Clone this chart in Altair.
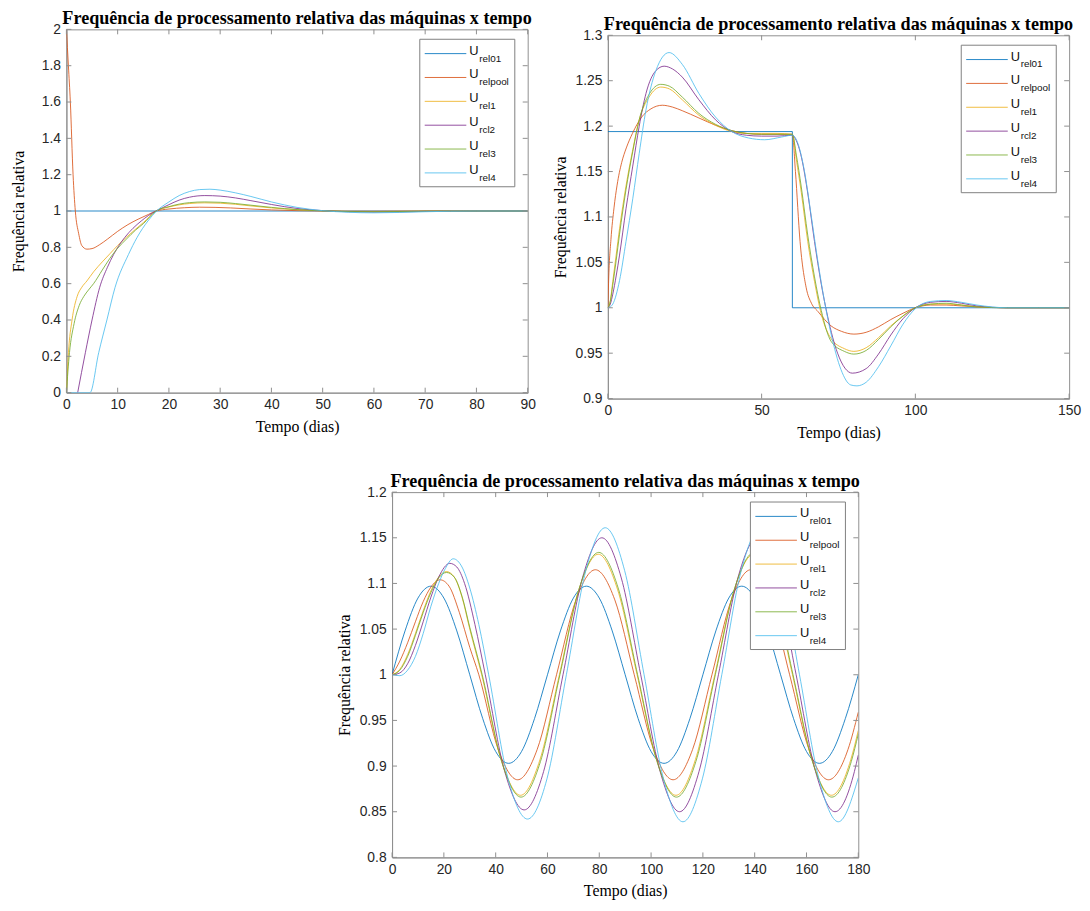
import altair as alt
import pandas as pd

TITLE = "Frequência de processamento relativa das máquinas x tempo"
X_TITLE = "Tempo (dias)"
Y_TITLE = "Frequência relativa"

legend_subs = ["rel01", "relpool", "rel1", "rcl2", "rel3", "rel4"]
line_colors = ["#0072BD", "#D95319", "#EDB120", "#7E2F8E", "#77AC30", "#4DBEEE"]

# ---------------- Panel 1 ----------------
p1_x_ticks = [0, 10, 20, 30, 40, 50, 60, 70, 80, 90]
p1_y_ticks = [0, 0.2, 0.4, 0.6, 0.8, 1, 1.2, 1.4, 1.6, 1.8, 2]

p1_t_rel01 = [0, 90]
p1_u_rel01 = [1, 1]
p1_t_relpool = [0, 0.39, 0.77, 1.3, 1.74, 2.4, 3.0, 4.0, 5.0, 6.5, 8, 10, 12, 14, 16, 17.5, 20, 23, 26, 29,
                32, 36, 40, 45, 50, 55, 60, 70, 80, 90]
p1_u_relpool = [2.0, 1.8, 1.6, 1.2, 1.0, 0.875, 0.81, 0.79, 0.793, 0.815, 0.845, 0.888, 0.925, 0.955, 0.981,
                1.0, 1.011, 1.018, 1.021, 1.02, 1.017, 1.011, 1.006, 1.002, 1.0, 0.999, 0.999, 1.0, 1.0, 1.0]
p1_t_rel1 = [0, 0.4, 1.1, 2.1, 3.0, 4.0, 5.3, 7, 8.5, 10, 11.7, 13.5, 15, 17.5, 20, 22, 24, 27, 30, 33,
             36, 40, 45, 50, 55, 60, 65, 70, 80, 90]
p1_u_rel1 = [0, 0.22, 0.4, 0.53, 0.58, 0.615, 0.665, 0.72, 0.765, 0.81, 0.855, 0.9, 0.936, 1.0, 1.022,
             1.034, 1.041, 1.045, 1.043, 1.037, 1.028, 1.017, 1.007, 1.001, 0.998, 0.997, 0.998, 0.999, 1.0, 1.0]
p1_t_rcl2 = [2.2, 3.7, 5.0, 6.5, 8, 9.2, 11.4, 13, 14.6, 16, 17.5, 20, 22, 24, 27, 30, 33, 36, 40, 45,
             50, 55, 60, 65, 70, 80, 90]
p1_u_rcl2 = [0, 0.22, 0.4, 0.58, 0.69, 0.76, 0.855, 0.905, 0.945, 0.975, 1.0, 1.035, 1.06, 1.076, 1.085,
             1.082, 1.072, 1.057, 1.036, 1.014, 1.002, 0.996, 0.994, 0.995, 0.998, 1.0, 1.0]
p1_t_rel3 = [0, 0.6, 1.5, 2.5, 3.4, 4.3, 5.3, 7, 8.5, 10, 11.7, 13.5, 15, 17.5, 20, 22, 24, 27, 30, 33,
             36, 40, 45, 50, 55, 60, 65, 70, 80, 90]
p1_u_rel3 = [0, 0.22, 0.38, 0.48, 0.53, 0.565, 0.60, 0.675, 0.74, 0.795, 0.845, 0.895, 0.93, 1.0, 1.024,
             1.038, 1.046, 1.05, 1.048, 1.041, 1.032, 1.02, 1.008, 1.001, 0.997, 0.996, 0.997, 0.999, 1.0, 1.0]
p1_t_rel4 = [0, 4.6, 6.3, 7.9, 9.5, 12.1, 13.8, 15.9, 17.6, 20, 22, 24, 26, 28, 30, 33, 36, 40, 45, 50,
             55, 60, 65, 70, 80, 90]
p1_u_rel4 = [0, 0, 0.22, 0.4, 0.58, 0.76, 0.855, 0.945, 1.0, 1.05, 1.085, 1.107, 1.118, 1.12, 1.115,
             1.1, 1.08, 1.05, 1.02, 1.002, 0.993, 0.99, 0.992, 0.996, 1.0, 1.0]

# ---------------- Panel 2 ----------------
p2_x_ticks = [0, 50, 100, 150]
p2_y_ticks = [0.9, 0.95, 1, 1.05, 1.1, 1.15, 1.2, 1.25, 1.3]

p2_t_rel01 = [0, 60, 60, 150]
p2_u_rel01 = [1.194, 1.194, 1.0, 1.0]
p2_t_relpool = [0, 0.3, 1, 2, 3, 4.5, 6, 8, 11, 14, 17.7, 21, 24.2, 29.6, 35, 40.3, 45, 50, 55, 60,
                61, 62.5, 64.5, 66.2, 68.3, 72.6, 76, 80, 84, 88, 92, 96, 100, 105, 110, 115, 120, 130, 140, 150]
p2_u_relpool = [1.0, 1.035, 1.075, 1.11, 1.135, 1.16, 1.176, 1.192, 1.21, 1.219, 1.223, 1.221, 1.217, 1.209,
                1.201, 1.195, 1.192, 1.191, 1.191, 1.191, 1.15, 1.073, 1.022, 1.005, 0.996, 0.98, 0.974,
                0.971, 0.973, 0.979, 0.987, 0.994, 1.0, 1.003, 1.003, 1.002, 1.001, 1.0, 1.0, 1.0]
p2_t_rel1 = [0, 0.8, 1.6, 2.7, 3.8, 5.9, 8.1, 10.2, 13.4, 17.2, 20, 24.2, 29.6, 35, 40.3, 45, 50, 55, 60,
             61.3, 62.9, 65, 67.2, 69.4, 72.6, 76.9, 80, 84, 88, 92, 96, 100, 105, 110, 115, 120, 130, 140, 150]
p2_u_rel1 = [1.0, 1.008, 1.029, 1.058, 1.087, 1.134, 1.174, 1.207, 1.232, 1.243, 1.241, 1.229, 1.212, 1.201,
             1.194, 1.192, 1.192, 1.192, 1.191, 1.163, 1.127, 1.073, 1.029, 0.993, 0.966, 0.955, 0.952,
             0.956, 0.967, 0.98, 0.991, 1.0, 1.004, 1.004, 1.003, 1.001, 1.0, 1.0, 1.0]
p2_t_rcl2 = [0, 0.8, 1.6, 2.7, 3.8, 5.9, 8.1, 10.2, 12.4, 15.6, 18.3, 21, 24.2, 29.6, 35, 40.3, 45, 50, 55,
             60, 61, 63, 65.1, 67.2, 69.4, 71.5, 74.7, 79.5, 84, 88, 92, 96, 100, 105, 110, 115, 120, 130,
             140, 150]
p2_u_rcl2 = [1.0, 1.004, 1.015, 1.035, 1.058, 1.109, 1.156, 1.2, 1.236, 1.261, 1.266, 1.263, 1.254, 1.229,
             1.207, 1.194, 1.19, 1.189, 1.189, 1.19, 1.186, 1.165, 1.124, 1.073, 1.026, 0.99, 0.95, 0.928,
             0.933, 0.949, 0.97, 0.988, 1.0, 1.006, 1.007, 1.005, 1.002, 1.0, 1.0, 1.0]
p2_t_rel3 = [0, 0.8, 1.6, 2.7, 3.8, 5.9, 8.1, 10.2, 13.4, 17.2, 20, 24.2, 29.6, 35, 40.3, 45, 50, 55, 60,
             61.3, 62.9, 65, 67.2, 69.4, 72.6, 76.9, 80, 84, 88, 92, 96, 100, 105, 110, 115, 120, 130, 140, 150]
p2_u_rel3 = [1.0, 1.007, 1.025, 1.052, 1.081, 1.13, 1.172, 1.207, 1.235, 1.246, 1.244, 1.232, 1.214, 1.202,
             1.195, 1.192, 1.191, 1.191, 1.191, 1.168, 1.133, 1.08, 1.034, 0.997, 0.963, 0.952, 0.949,
             0.953, 0.965, 0.979, 0.991, 1.0, 1.004, 1.005, 1.003, 1.001, 1.0, 1.0, 1.0]
p2_t_rel4 = [0, 0.8, 1.6, 3.8, 5.9, 8.1, 10.2, 12.4, 15.6, 19.9, 24.2, 29.6, 35, 40.3, 45.7, 51, 56.5, 60,
             61.8, 64, 66.1, 68.3, 70.4, 72.6, 75.8, 79, 81, 84, 88, 92, 96, 100, 105, 110, 115, 120, 130,
             140, 150]
p2_u_rel4 = [1.0, 1.001, 1.004, 1.03, 1.073, 1.12, 1.17, 1.218, 1.261, 1.281, 1.268, 1.236, 1.21, 1.194,
             1.187, 1.185, 1.188, 1.19, 1.181, 1.149, 1.102, 1.051, 1.008, 0.971, 0.932, 0.915, 0.914,
             0.918, 0.935, 0.958, 0.982, 0.999, 1.007, 1.008, 1.006, 1.003, 1.0, 1.0, 1.0]

# ---------------- Panel 3 ----------------
p3_x_ticks = [0, 20, 40, 60, 80, 100, 120, 140, 160, 180]
p3_y_ticks = [0.8, 0.85, 0.9, 0.95, 1, 1.05, 1.1, 1.15, 1.2]

p3_t_rel01 = [0, 5, 10, 15, 20, 25, 30, 35, 40, 45, 50, 55, 60, 65, 70, 75, 80, 85, 90, 95, 100, 105,
              110, 115, 120, 125, 130, 135, 140, 145, 150, 155, 160, 165, 170, 175, 180]
p3_u_rel01 = [1.0, 1.048, 1.084, 1.097, 1.084, 1.048, 1.0, 0.952, 0.916, 0.903, 0.916, 0.952,
              1.0, 1.048, 1.084, 1.097, 1.084, 1.048, 1.0, 0.952, 0.916, 0.903, 0.916, 0.952,
              1.0, 1.048, 1.084, 1.097, 1.084, 1.048, 1.0, 0.952, 0.916, 0.903, 0.916, 0.952, 1.0]
p3_t_relpool = [0, 3, 6, 9, 12, 15, 18.5, 22, 26, 30, 33.5, 41, 48.5, 56, 63.5, 71, 78.5, 86, 93.5, 101,
                108.5, 116, 123.5, 131, 138.5, 146, 153.5, 161, 168.5, 176, 180]
p3_u_relpool = [1.0, 1.015, 1.035, 1.058, 1.08, 1.096, 1.104, 1.097, 1.068, 1.03, 1.0, 0.918, 0.885, 0.918,
                1.0, 1.082, 1.115, 1.082, 1.0, 0.918, 0.885, 0.918, 1.0, 1.082, 1.115, 1.082, 1.0, 0.918,
                0.885, 0.918, 0.959]
p3_t_rel1 = [0, 3, 6, 9, 12, 15, 18, 21, 24, 27, 30, 34.6, 42.1, 49.6, 57.1, 64.6, 72.1, 79.6, 87.1, 94.6,
             102.1, 109.6, 117.1, 124.6, 132.1, 139.6, 147.1, 154.6, 162.1, 169.6, 177.1, 180]
p3_u_rel1 = [1.0, 1.006, 1.022, 1.045, 1.07, 1.092, 1.107, 1.113, 1.107, 1.085, 1.05, 1.0, 0.907, 0.868,
             0.907, 1.0, 1.093, 1.132, 1.093, 1.0, 0.907, 0.868, 0.907, 1.0, 1.093, 1.132, 1.093, 1.0, 0.907,
             0.868, 0.907, 0.939]
p3_t_rcl2 = [0, 3, 6, 9, 12, 15, 18, 22.3, 25, 28, 32, 36, 43.5, 51, 58.5, 66, 73.5, 81, 88.5, 96, 103.5,
             111, 118.5, 126, 133.5, 141, 148.5, 156, 163.5, 171, 178.5, 180]
p3_u_rcl2 = [1.0, 1.002, 1.012, 1.032, 1.058, 1.085, 1.107, 1.122, 1.118, 1.1, 1.055, 1.0, 0.894, 0.852,
             0.894, 1.0, 1.106, 1.15, 1.106, 1.0, 0.894, 0.85, 0.894, 1.0, 1.106, 1.15, 1.106, 1.0, 0.894,
             0.85, 0.894, 0.912]
p3_t_rel3 = [0, 3, 6, 9, 12, 15, 18, 21, 24, 27, 30, 34.8, 42.3, 49.8, 57.3, 64.8, 72.3, 79.8, 87.3, 94.8,
             102.3, 109.8, 117.3, 124.8, 132.3, 139.8, 147.3, 154.8, 162.3, 169.8, 177.3, 180]
p3_u_rel3 = [1.0, 1.005, 1.02, 1.043, 1.068, 1.09, 1.106, 1.112, 1.107, 1.086, 1.052, 1.0, 0.905, 0.866,
             0.905, 1.0, 1.095, 1.134, 1.095, 1.0, 0.905, 0.866, 0.905, 1.0, 1.095, 1.134, 1.095, 1.0, 0.905,
             0.866, 0.905, 0.935]
p3_t_rel4 = [0, 3, 6, 9, 12, 15, 18, 20.5, 23.6, 27, 30, 33.5, 37.3, 44.8, 52.3, 59.8, 67.3, 74.8, 82.3,
             89.8, 97.3, 104.8, 112.3, 119.8, 127.3, 134.8, 142.3, 149.8, 157.3, 164.8, 172.3, 180]
p3_u_rel4 = [1.0, 0.999, 1.005, 1.02, 1.045, 1.075, 1.1, 1.116, 1.127, 1.118, 1.095, 1.055, 1.0, 0.886,
             0.842, 0.886, 1.0, 1.114, 1.161, 1.114, 1.0, 0.886, 0.839, 0.886, 1.0, 1.114, 1.161, 1.114, 1.0,
             0.886, 0.839, 0.887]

# ---------------- Styling ----------------
SANS = "Liberation Sans"
SERIF = "Liberation Serif"
AXIS_GRAY = "#8f8f8f"
LEGEND_GRAY = "#7f7f7f"
LABEL_COLOR = "#262626"
LINE_OPACITY = 0.85
TITLE_SIZE = 18.3
TITLE_GAP = 5
one = pd.DataFrame({"k": [0]})
LABEL_EXPR = "'' + datum.value"


def legend_layers(W):
    box_r = W - 13
    box_l = box_r - 96
    box_t = 10
    box_b = box_t + 149
    out = [alt.Chart(one).mark_rect(fill="white", stroke=LEGEND_GRAY, strokeWidth=1).encode(
        x=alt.value(box_l), x2=alt.value(box_r), y=alt.value(box_t), y2=alt.value(box_b))]
    for i, (sub, col) in enumerate(zip(legend_subs, line_colors)):
        yy = box_t + 14.5 + 24.1 * i
        out.append(alt.Chart(one).mark_rule(color=col, strokeWidth=1, strokeOpacity=LINE_OPACITY).encode(
            x=alt.value(box_l + 5), x2=alt.value(box_l + 47), y=alt.value(yy)))
        out.append(alt.Chart(one).mark_text(text="U", font=SANS, fontSize=13, align="left",
                                            baseline="middle", color="#111111").encode(
            x=alt.value(box_l + 50), y=alt.value(yy - 3)))
        out.append(alt.Chart(one).mark_text(text=sub, font=SANS, fontSize=10, align="left",
                                            baseline="middle", color="#111111").encode(
            x=alt.value(box_l + 60), y=alt.value(yy + 5)))
    return out


def make_panel(series, xdom, ydom, xticks, yticks, W, H):
    xs = alt.Scale(domain=xdom, nice=False, zero=False)
    ys = alt.Scale(domain=ydom, nice=False, zero=False)
    xaxis = alt.Axis(values=xticks, title=X_TITLE, labelExpr=LABEL_EXPR, grid=False, ticks=False,
                     domainColor=AXIS_GRAY, domainWidth=1, labelFont=SANS, labelFontSize=14,
                     labelColor=LABEL_COLOR, labelPadding=5, labelFlush=False, labelOverlap=False,
                     titleFont=SERIF, titleFontSize=16, titleFontWeight="normal", titleColor="black",
                     titleY=34, titleBaseline="middle")
    yaxis = alt.Axis(values=yticks, title=Y_TITLE, labelExpr=LABEL_EXPR, grid=False, ticks=False,
                     domainColor=AXIS_GRAY, domainWidth=1, labelFont=SANS, labelFontSize=14,
                     labelColor=LABEL_COLOR, labelPadding=6, labelFlush=False, labelOverlap=False,
                     titleFont=SERIF, titleFontSize=16, titleFontWeight="normal", titleColor="black",
                     titleX=-48, titleY=H / 2, titleAngle=270, titleAlign="center",
                     titleBaseline="middle")
    layers = []
    for t, u, col, interp in series:
        df = pd.DataFrame({"t": t, "u": u})
        layers.append(alt.Chart(df).mark_line(color=col, strokeWidth=1, strokeOpacity=LINE_OPACITY,
                                              interpolate=interp, clip=True).encode(
            x=alt.X("t:Q", scale=xs, axis=xaxis), y=alt.Y("u:Q", scale=ys, axis=yaxis)))
    dx = pd.DataFrame({"v": xticks})
    dy = pd.DataFrame({"v": yticks})
    layers.append(alt.Chart(dx).mark_rule(color=AXIS_GRAY).encode(
        x=alt.X("v:Q", scale=xs, axis=xaxis), y=alt.value(H), y2=alt.value(H - 5)))
    layers.append(alt.Chart(dx).mark_rule(color=AXIS_GRAY).encode(
        x=alt.X("v:Q", scale=xs, axis=xaxis), y=alt.value(0), y2=alt.value(5)))
    layers.append(alt.Chart(dy).mark_rule(color=AXIS_GRAY).encode(
        y=alt.Y("v:Q", scale=ys, axis=yaxis), x=alt.value(0), x2=alt.value(5)))
    layers.append(alt.Chart(dy).mark_rule(color=AXIS_GRAY).encode(
        y=alt.Y("v:Q", scale=ys, axis=yaxis), x=alt.value(W - 5), x2=alt.value(W)))
    layers += legend_layers(W)
    # panel title drawn as text just above the plot frame
    layers.append(alt.Chart(one).mark_text(text=TITLE, font=SERIF, fontSize=TITLE_SIZE, fontWeight="bold",
                                           align="center", baseline="top", color="black").encode(
        x=alt.value(W / 2), y=alt.value(-TITLE_GAP - 0.79 * TITLE_SIZE)))
    return alt.layer(*layers).properties(width=W, height=H)


def spacer(w, h):
    return alt.Chart(one).mark_rule(strokeOpacity=0).encode(
        x=alt.value(0), x2=alt.value(1), y=alt.value(0)).properties(
        width=w, height=h, view=alt.ViewBackground(stroke="transparent"))


p1 = make_panel([
    (p1_t_rel01, p1_u_rel01, line_colors[0], "linear"),
    (p1_t_relpool, p1_u_relpool, line_colors[1], "monotone"),
    (p1_t_rel1, p1_u_rel1, line_colors[2], "monotone"),
    (p1_t_rcl2, p1_u_rcl2, line_colors[3], "monotone"),
    (p1_t_rel3, p1_u_rel3, line_colors[4], "monotone"),
    (p1_t_rel4, p1_u_rel4, line_colors[5], "monotone"),
], [0, 90], [0, 2], p1_x_ticks, p1_y_ticks, 466, 367)

p2 = make_panel([
    (p2_t_rel01, p2_u_rel01, line_colors[0], "linear"),
    (p2_t_relpool, p2_u_relpool, line_colors[1], "monotone"),
    (p2_t_rel1, p2_u_rel1, line_colors[2], "monotone"),
    (p2_t_rcl2, p2_u_rcl2, line_colors[3], "monotone"),
    (p2_t_rel3, p2_u_rel3, line_colors[4], "monotone"),
    (p2_t_rel4, p2_u_rel4, line_colors[5], "monotone"),
], [0, 150], [0.9, 1.3], p2_x_ticks, p2_y_ticks, 466, 367)

p3 = make_panel([
    (p3_t_rel01, p3_u_rel01, line_colors[0], "monotone"),
    (p3_t_relpool, p3_u_relpool, line_colors[1], "monotone"),
    (p3_t_rel1, p3_u_rel1, line_colors[2], "monotone"),
    (p3_t_rcl2, p3_u_rcl2, line_colors[3], "monotone"),
    (p3_t_rel3, p3_u_rel3, line_colors[4], "monotone"),
    (p3_t_rel4, p3_u_rel4, line_colors[5], "monotone"),
], [0, 180], [0.8, 1.2], p3_x_ticks, p3_y_ticks, 471, 369)

col1 = alt.vconcat(spacer(1, 1), p1, spacing=0)
col2 = alt.vconcat(spacer(1, 7.5), p2, spacing=0)
row1 = alt.hconcat(col1, col2, spacing=15)
row2 = alt.hconcat(spacer(271, 1), p3, spacing=0)

chart = alt.vconcat(row1, row2, spacing=30.5).properties(
    padding={"left": 2, "top": -7, "right": 0, "bottom": 0},
    background="white",
).configure_view(stroke=AXIS_GRAY, strokeWidth=1)

chart.save("out.html", embed_options={"renderer": "svg", "actions": False})
